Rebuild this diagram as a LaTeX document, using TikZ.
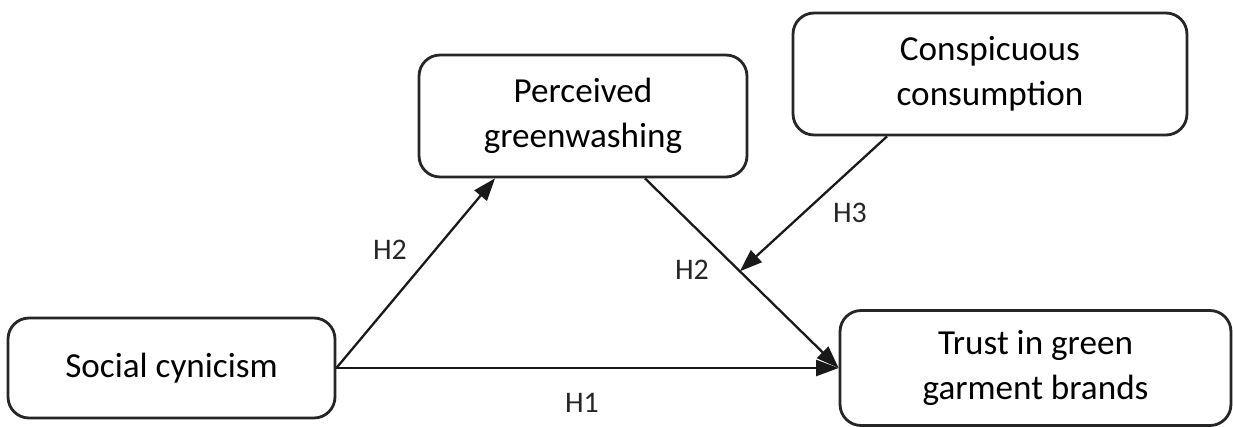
\documentclass[tikz,border=0pt]{standalone}
\usepackage{fontspec}
\setmainfont{Carlito}
\usetikzlibrary{arrows.meta, calc}

\begin{document}
\begin{tikzpicture}[
  x=0.02cm, y=-0.02cm,
  >={Triangle[length=0.45cm, width=0.32cm]},
  box/.style={draw=black!85, line width=1.6pt, rounded corners=0.42cm,
    align=center, font=\fontsize{20}{25.5}\selectfont, inner sep=0pt},
  hyp/.style={font=\fontsize{17}{20}\selectfont, text=black!85},
  link/.style={->, line width=1.3pt, draw=black!90}
]
\useasboundingbox (0,0) rectangle (1233,426);

% constructs
\node[box, minimum width=6.54cm, minimum height=2cm] (sc) at (171.5,368) {Social cynicism};
\node[box, minimum width=6.56cm, minimum height=2.44cm] (pg) at (583,116) {Perceived\\greenwashing};
\node[box, minimum width=7.88cm, minimum height=2.44cm] (cc) at (990,74) {Conspicuous\\consumption};
\node[box, minimum width=7.82cm, minimum height=2.3cm] (tb) at (1035.5,368) {Trust in green\\garment brands};

% paths
\draw[link] (sc.east) -- (tb.west);
\draw[link] (sc.east) -- ([xshift=-1.76cm]pg.south);
\draw[link] ([xshift=1.24cm]pg.south) -- (tb.west) coordinate[pos=0.49] (mid);
\draw[link] ([xshift=-2.06cm]cc.south) -- (mid);

% labels
\node[hyp] (h1) at (582,403) {H1};
\node[hyp] (h2a) at (390,250) {H2};
\node[hyp] (h2b) at (692,270) {H2};
\node[hyp] (h3) at (850,213) {H3};
\end{tikzpicture}
\end{document}
